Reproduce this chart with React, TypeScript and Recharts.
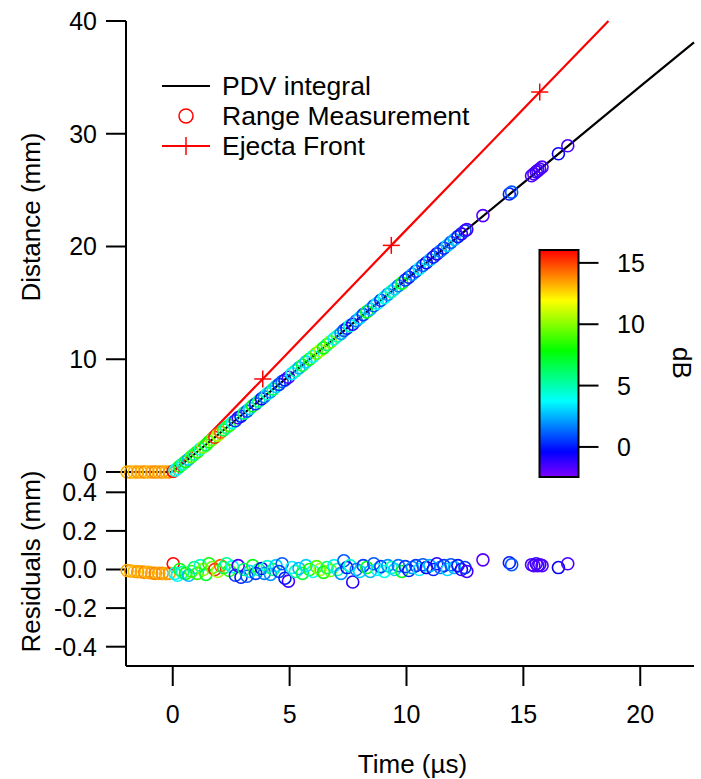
import { ComposedChart, Line, Scatter, XAxis, YAxis } from "recharts";

const FONT = '"Liberation Sans", Arial, sans-serif';

const timeDomain = [-2, 22.3];
const timeTicks = [0, 5, 10, 15, 20];
const distanceTicks = [0, 10, 20, 30, 40];
const residualTicks = [-0.4, -0.2, 0, 0.2, 0.4];
const dbTicks = [0, 5, 10, 15];
const dbRange = [-2.45, 16.05];

// PDV integral (black line)
const pdvTime = [-2, 0, 5, 10, 15, 20, 22.3];
const pdvDistance = [0, 0, 8.55, 17.1, 25.65, 34.2, 38.1];

// Ejecta front (red line + markers)
const ejectaTime = [0, 3.85, 9.35, 15.7, 18.64];
const ejectaDistance = [0, 8.25, 20.1, 33.7, 40];
const ejectaMarkTime = [3.85, 9.35, 15.7];
const ejectaMarkDistance = [8.25, 20.1, 33.7];

// Range measurements
const rangeTime = [
  -1.95, -1.8, -1.65, -1.5, -1.35, -1.2, -1.05, -0.9, -0.75, -0.6, -0.45, -0.3, -0.15,
  0.02, 0.1, 0.2, 0.3, 0.42, 0.55, 0.68, 0.8, 0.92, 1.05,
  1.18, 1.3, 1.42, 1.55, 1.68, 1.8, 1.92, 2.05, 2.18, 2.3,
  2.42, 2.55, 2.68, 2.8, 2.92, 3.05, 3.18, 3.3, 3.42, 3.55,
  3.68, 3.8, 3.92, 4.05, 4.18, 4.3, 4.42, 4.55, 4.68, 4.8,
  4.95, 5.1, 5.25, 5.4, 5.55, 5.7, 5.85, 6.0, 6.15, 6.3,
  6.45, 6.6, 6.75, 6.9, 7.05, 7.2, 7.32, 7.45, 7.58, 7.7,
  7.85, 8.0, 8.15, 8.3, 8.45, 8.6, 8.75, 8.9, 9.05, 9.2,
  9.35, 9.5, 9.65, 9.8, 9.95, 10.1, 10.25, 10.4, 10.55, 10.7,
  10.85, 11.0, 11.15, 11.3, 11.45, 11.6, 11.75, 11.9, 12.05, 12.2,
  12.35, 12.5, 12.58, 13.27, 14.4, 14.5, 15.35, 15.45, 15.55, 15.62,
  15.7, 15.8, 16.5, 16.9,
];
const rangeDistance = [
  0, 0, 0, 0, 0, 0, 0, 0, 0, 0, 0, 0, 0,
  0.06, 0.15, 0.31, 0.51, 0.7, 0.92, 1.13, 1.36, 1.58, 1.78,
  2.04, 2.22, 2.4, 2.68, 2.88, 3.08, 3.27, 3.53, 3.74, 3.96,
  4.13, 4.38, 4.55, 4.81, 4.95, 5.22, 5.4, 5.63, 5.87, 6.05,
  6.29, 6.5, 6.68, 6.94, 7.12, 7.35, 7.58, 7.77, 8.03, 8.16,
  8.4, 8.73, 8.97, 9.24, 9.47, 9.77, 10.0, 10.25, 10.53, 10.77,
  11.01, 11.3, 11.54, 11.82, 12.06, 12.29, 12.56, 12.75, 12.98, 13.1,
  13.42, 13.67, 13.96, 14.2, 14.44, 14.74, 14.96, 15.23, 15.47, 15.75,
  16.0, 16.25, 16.52, 16.75, 17.03, 17.27, 17.54, 17.8, 18.04, 18.32,
  18.56, 18.83, 19.07, 19.35, 19.59, 19.86, 20.09, 20.37, 20.62, 20.88,
  21.12, 21.39, 21.5, 22.74, 24.66, 24.82, 26.27, 26.44, 26.62, 26.73,
  26.87, 27.04, 28.23, 28.93,
];
const rangeResidual = [
  -0.005, -0.008, -0.01, -0.012, -0.012, -0.015, -0.015, -0.018, -0.02, -0.02, -0.02, -0.022, -0.02,
  0.03, -0.02, -0.03, 0, -0.015, -0.02, -0.03, -0.01, 0.01, -0.02,
  0.02, 0, -0.025, 0.03, 0.01, 0, -0.01, 0.02, 0.01, 0.03,
  -0.005, 0.015, -0.03, 0.02, -0.04, 0, -0.035, -0.01, 0.02, -0.02,
  0, 0.005, -0.02, 0.015, -0.025, 0, 0.02, -0.01, 0.03, -0.045,
  -0.06, 0.01, -0.01, 0.005, -0.02, 0.02, 0, -0.01, 0.015, 0,
  -0.015, 0.01, -0.005, 0.02, 0, -0.02, 0.045, 0.01, 0.02, -0.065,
  0, -0.01, 0.02, 0.01, -0.01, 0.03, 0, 0.015, -0.01, 0.02,
  0.01, 0, 0.02, -0.01, 0.015, -0.005, 0.01, 0.02, 0, 0.025,
  0.01, 0.02, 0, 0.03, 0.01, 0.02, 0, 0.025, 0.01, 0.02,
  0, 0.01, -0.01, 0.05, 0.035, 0.025, 0.025, 0.02, 0.03, 0.02,
  0.025, 0.02, 0.01, 0.03,
];
const rangeDb = [
  13.2, 13.5, 13.0, 13.6, 13.3, 13.8, 13.1, 13.5, 13.9, 13.4, 13.7, 13.2, 13.6,
  16.0, 4.0, 3.5, 8.0, 5.0, 7.5, 2.5, 9.0, 6.0, 8.5,
  4.5, 10.0, 7.0, 8.0, 9.5, 15.5, 10.5, 14.5, 6.5, 5.5,
  8.5, 4.0, 0.5, -1.5, 0.0, 6.0, 1.0, 3.0, 7.5, 0.5,
  5.5, -0.5, 1.5, 4.5, 2.0, 6.0, 3.0, 0.5, 1.0, 0.0,
  -1.5, 3.5, 5.0, 2.5, 7.0, 3.0, 8.0, 4.0, 9.0, 10.5,
  8.0, 6.0, 9.5, 3.5, 5.0, 2.0, 1.0, 0.0, 4.5, -1.0,
  1.5, 3.0, 0.5, 7.5, 2.5, 1.0, 3.5, 0.5, 4.0, 2.0,
  5.0, 3.0, 1.5, 7.5, 0.5, 0.0, 2.0, 0.5, 3.5, 1.0,
  -0.5, 2.5, 0.0, -1.0, 1.5, 0.5, 3.0, 1.0, 2.5, 0.0,
  -1.0, 0.5, -1.5, -1.8, 0.0, 1.0, -1.5, -1.8, -1.2, -1.6,
  -1.4, -1.7, -0.5, -1.5,
];

const pdvData = pdvTime.map((t, i) => ({ t, d: pdvDistance[i] }));
const ejectaData = ejectaTime.map((t, i) => ({ t, d: ejectaDistance[i] }));
const ejectaMarks = ejectaMarkTime.map((t, i) => ({ t, d: ejectaMarkDistance[i] }));
const rangeData = rangeTime.map((t, i) => ({
  t,
  d: rangeDistance[i],
  r: rangeResidual[i],
  db: rangeDb[i],
}));

// rainbow: red at the top of the dB scale, violet at the bottom
function dbColor(db: number) {
  const f = (dbRange[1] - db) / (dbRange[1] - dbRange[0]);
  const h = Math.max(0, Math.min(1, f)) * 270;
  return `hsl(${h.toFixed(1)}, 100%, 50%)`;
}

const RangeCircle = (props: any) => {
  const { cx, cy, payload } = props;
  if (cx == null || cy == null) return null;
  return (
    <circle cx={cx} cy={cy} r={6} fill="none" stroke={dbColor(payload.db)} strokeWidth={1.6} />
  );
};

const PlusMark = (props: any) => {
  const { cx, cy } = props;
  if (cx == null || cy == null) return null;
  return (
    <g stroke="#ff0000" strokeWidth={1.5}>
      <line x1={cx - 8.5} x2={cx + 8.5} y1={cy} y2={cy} />
      <line x1={cx} x2={cx} y1={cy - 8.5} y2={cy + 8.5} />
    </g>
  );
};

const yTitle = (text: string, shift: number) => (props: any) => {
  const vb = props.viewBox;
  const x = vb.x + 31;
  const y = vb.y + vb.height / 2 + shift;
  return (
    <text
      x={x}
      y={y}
      transform={`rotate(-90 ${x} ${y})`}
      textAnchor="middle"
      dominantBaseline="central"
      fontSize={26}
      fill="#000"
    >
      {text}
    </text>
  );
};

const xTitle = (props: any) => {
  const vb = props.viewBox;
  return (
    <text x={vb.x + vb.width / 2 + 2.5} y={vb.y + 107} textAnchor="middle" fontSize={26} fill="#000">
      Time (µs)
    </text>
  );
};

const axisLine = { stroke: "#000", strokeWidth: 2 };
const tickStyle = { fill: "#000", fontSize: 25 };

const CB = { x: 539.5, y: 250, w: 39, h: 227 };
const cbY = (v: number) =>
  CB.y + CB.h - ((v - dbRange[0]) / (dbRange[1] - dbRange[0])) * CB.h;

function Overlay() {
  return (
    <svg
      width={701}
      height={779}
      style={{ position: "absolute", left: 0, top: 0, pointerEvents: "none" }}
      fontFamily={FONT}
    >
      <defs>
        <linearGradient id="rainbow" x1="0" y1="0" x2="0" y2="1">
          <stop offset={0} stopColor="hsl(0,100%,50%)" />
          <stop offset={60 / 270} stopColor="hsl(60,100%,50%)" />
          <stop offset={120 / 270} stopColor="hsl(120,100%,50%)" />
          <stop offset={180 / 270} stopColor="hsl(180,100%,50%)" />
          <stop offset={240 / 270} stopColor="hsl(240,100%,50%)" />
          <stop offset={1} stopColor="hsl(270,100%,50%)" />
        </linearGradient>
      </defs>

      {/* legend */}
      <line x1={162} x2={210} y1={86} y2={86} stroke="#000" strokeWidth={2} />
      <text x={222} y={95} fontSize={26.5} fill="#000">PDV integral</text>
      <circle cx={186} cy={116} r={7} fill="none" stroke="#ff0000" strokeWidth={1.5} />
      <text x={222} y={125} fontSize={26.5} fill="#000">Range Measurement</text>
      <line x1={162} x2={210} y1={146} y2={146} stroke="#ff0000" strokeWidth={2} />
      <line x1={186} x2={186} y1={137} y2={155} stroke="#ff0000" strokeWidth={1.5} />
      <text x={222} y={155} fontSize={26.5} fill="#000">Ejecta Front</text>

      {/* colour scale */}
      <rect x={CB.x} y={CB.y} width={CB.w} height={CB.h} fill="url(#rainbow)" stroke="#000" strokeWidth={2} />
      {dbTicks.map((v) => (
        <g key={v}>
          <line x1={CB.x + CB.w} x2={CB.x + CB.w + 20} y1={cbY(v)} y2={cbY(v)} stroke="#000" strokeWidth={2} />
          <text x={617} y={cbY(v)} dominantBaseline="central" fontSize={25} fill="#000">
            {v}
          </text>
        </g>
      ))}
      <text
        x={682}
        y={363}
        transform="rotate(90 682 363)"
        textAnchor="middle"
        dominantBaseline="central"
        fontSize={26}
        fill="#000"
      >
        dB
      </text>
    </svg>
  );
}

export default function App() {
  return (
    <div
      style={{
        position: "absolute",
        left: 0,
        top: 0,
        width: 701,
        height: 779,
        background: "#fff",
        fontFamily: FONT,
      }}
    >
      <div style={{ position: "absolute", left: 0, top: 0 }}>
        <ComposedChart width={701} height={490} margin={{ top: 21, right: 7, bottom: 18, left: 0 }}>
          <XAxis xAxisId="t" dataKey="t" type="number" domain={timeDomain} hide />
          <XAxis
            xAxisId="frame"
            orientation="top"
            type="number"
            domain={timeDomain}
            height={0}
            tick={false}
            tickLine={false}
            axisLine={axisLine}
          />
          <YAxis
            yAxisId="d"
            type="number"
            domain={[0, 40]}
            ticks={distanceTicks}
            interval={0}
            width={126}
            tickSize={20}
            tickMargin={9}
            tick={tickStyle}
            tickLine={axisLine}
            axisLine={axisLine}
            label={yTitle("Distance (mm)", -29.5)}
          />
          <YAxis
            yAxisId="frame"
            orientation="right"
            type="number"
            domain={[0, 40]}
            width={0}
            tick={false}
            tickLine={false}
            axisLine={axisLine}
          />
          <Line
            xAxisId="t"
            yAxisId="d"
            data={pdvData}
            dataKey="d"
            stroke="#000"
            strokeWidth={2.2}
            dot={false}
            isAnimationActive={false}
          />
          <Scatter
            xAxisId="t"
            yAxisId="d"
            data={rangeData}
            dataKey="d"
            shape={RangeCircle}
            isAnimationActive={false}
          />
          <Line
            xAxisId="t"
            yAxisId="d"
            data={ejectaData}
            dataKey="d"
            stroke="#ff0000"
            strokeWidth={2.2}
            dot={false}
            isAnimationActive={false}
          />
          <Scatter
            xAxisId="t"
            yAxisId="d"
            data={ejectaMarks}
            dataKey="d"
            shape={PlusMark}
            isAnimationActive={false}
          />
        </ComposedChart>
      </div>

      <div style={{ position: "absolute", left: 0, top: 453 }}>
        <ComposedChart width={701} height={326} margin={{ top: 20, right: 7, bottom: 0, left: 0 }}>
          <XAxis
            xAxisId="t"
            dataKey="t"
            type="number"
            domain={timeDomain}
            ticks={timeTicks}
            interval={0}
            height={113}
            tickSize={20}
            tickMargin={19}
            tick={tickStyle}
            tickLine={axisLine}
            axisLine={axisLine}
            label={xTitle}
          />
          <YAxis
            yAxisId="r"
            type="number"
            domain={[-0.5, 0.5]}
            ticks={residualTicks}
            interval={0}
            width={126}
            tickSize={20}
            tickMargin={9}
            tick={tickStyle}
            tickLine={axisLine}
            axisLine={axisLine}
            tickFormatter={(v: number) => v.toFixed(1)}
            label={yTitle("Residuals (mm)", -8)}
          />
          <YAxis
            yAxisId="frame"
            orientation="right"
            type="number"
            domain={[-0.5, 0.5]}
            width={0}
            tick={false}
            tickLine={false}
            axisLine={axisLine}
          />
          <Scatter
            xAxisId="t"
            yAxisId="r"
            data={rangeData}
            dataKey="r"
            shape={RangeCircle}
            isAnimationActive={false}
          />
        </ComposedChart>
      </div>

      <Overlay />
    </div>
  );
}
